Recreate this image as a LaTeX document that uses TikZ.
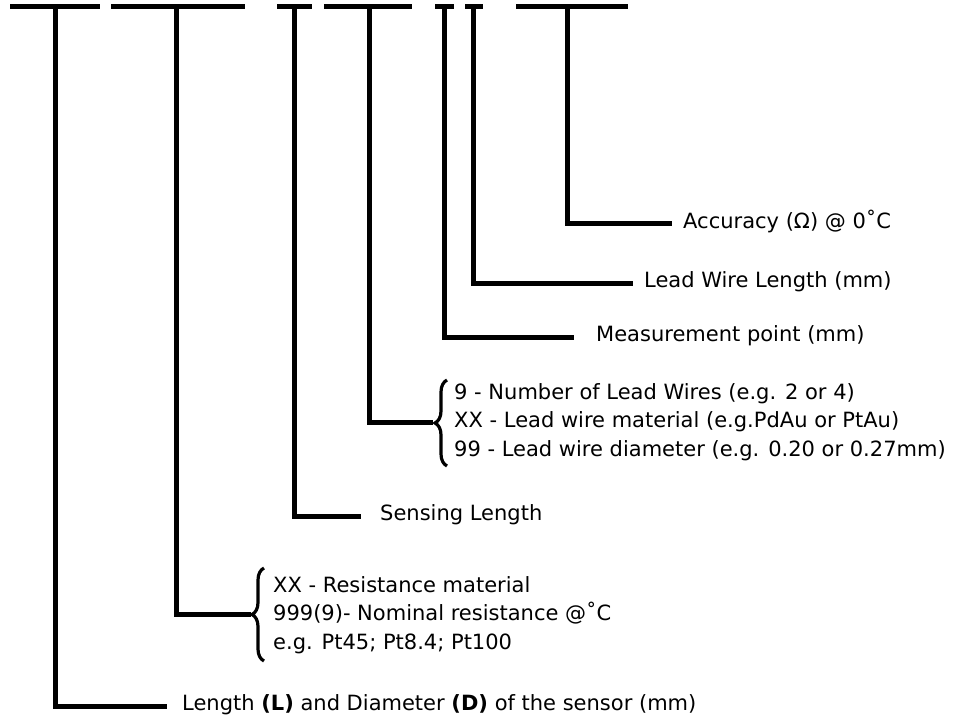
\documentclass[tikz,border=0pt]{standalone}
\usepackage{fontspec}
\setmainfont{DejaVu Sans}
\usetikzlibrary{decorations.pathreplacing}
\begin{document}
\begin{tikzpicture}[x=1pt,y=-1pt,
  bar/.style={line width=5pt},
  lead/.style={line width=5pt, line join=miter},
  bracestyle/.style={line width=3.2pt, decorate, decoration={brace, amplitude=12pt, aspect=0.5}},
  lbl/.style={anchor=west, inner sep=0pt, align=left, font=\fontsize{21}{28.5}\selectfont}]
\useasboundingbox (0,0) rectangle (973,720);
% top bars
\draw[bar] (10,6.5) -- (100,6.5);
\draw[bar] (111,6.5) -- (245,6.5);
\draw[bar] (277,6.5) -- (312,6.5);
\draw[bar] (324,6.5) -- (412,6.5);
\draw[bar] (435,6.5) -- (454,6.5);
\draw[bar] (465,6.5) -- (483,6.5);
\draw[bar] (516,6.5) -- (628,6.5);
% stem tops
\coordinate (s1) at (55,6.5);
\coordinate (s2) at (176,6.5);
\coordinate (s3) at (294,6.5);
\coordinate (s4) at (369,6.5);
\coordinate (s5) at (444,6.5);
\coordinate (s6) at (473,6.5);
\coordinate (s7) at (567,6.5);
% connector ends
\coordinate (e1) at (167,706);
\coordinate (e2) at (251,614);
\coordinate (e3) at (361,516);
\coordinate (e4) at (433,422);
\coordinate (e5) at (574,337);
\coordinate (e6) at (633,283);
\coordinate (e7) at (672,223);
% labels
\node[lbl] (t1) at (182,705) {Length \textbf{(L)} and Diameter \textbf{(D)} of the sensor (mm)};
\node[lbl] (t2) at (273,615) {XX - Resistance material\\999(9)- Nominal resistance @˚C\\e.g. Pt45; Pt8.4; Pt100};
\node[lbl] (t3) at (380,515) {Sensing Length};
\node[lbl] (t4) at (454,422) {9 - Number of Lead Wires (e.g. 2 or 4)\\XX - Lead wire material (e.g.PdAu or PtAu)\\99 - Lead wire diameter (e.g. 0.20 or 0.27mm)};
\node[lbl] (t5) at (596,336) {Measurement point (mm)};
\node[lbl] (t6) at (644,282) {Lead Wire Length (mm)};
\node[lbl] (t7) at (683,221) {Accuracy (Ω) @ 0˚C};
% braces
\draw[bracestyle] (264,661) -- (264,568);
\draw[bracestyle] (447,466) -- (447,380);
% connectors
\draw[lead] (s1) |- (e1);
\draw[lead] (s2) |- (e2);
\draw[lead] (s3) |- (e3);
\draw[lead] (s4) |- (e4);
\draw[lead] (s5) |- (e5);
\draw[lead] (s6) |- (e6);
\draw[lead] (s7) |- (e7);
\end{tikzpicture}
\end{document}
